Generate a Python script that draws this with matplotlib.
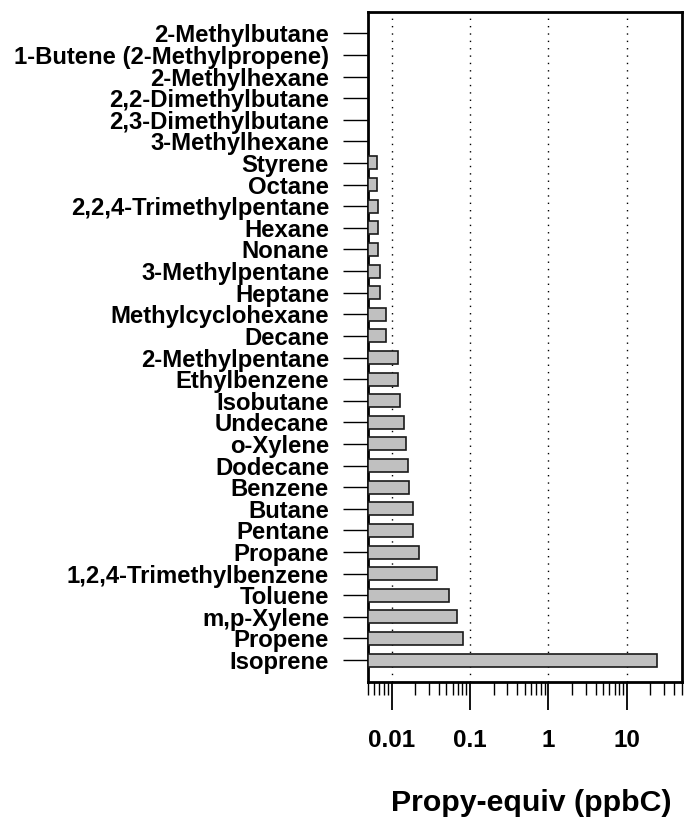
import numpy as np
import matplotlib
matplotlib.use("Agg")
import matplotlib.pyplot as plt
from matplotlib.ticker import LogLocator, FixedLocator, NullFormatter

# --- DATA (top to bottom as shown) ---
compounds = [
    "2-Methylbutane", "1-Butene (2-Methylpropene)", "2-Methylhexane",
    "2,2-Dimethylbutane", "2,3-Dimethylbutane", "3-Methylhexane",
    "Styrene", "Octane", "2,2,4-Trimethylpentane", "Hexane", "Nonane",
    "3-Methylpentane", "Heptane", "Methylcyclohexane", "Decane",
    "2-Methylpentane", "Ethylbenzene", "Isobutane", "Undecane", "o-Xylene",
    "Dodecane", "Benzene", "Butane", "Pentane", "Propane",
    "1,2,4-Trimethylbenzene", "Toluene", "m,p-Xylene", "Propene", "Isoprene",
]
propy_equiv = [
    0, 0, 0, 0, 0, 0,
    0.0065, 0.0066, 0.0067, 0.0067, 0.0067,
    0.0071, 0.0071, 0.0085, 0.0085,
    0.0119, 0.0119, 0.0128, 0.0142, 0.0154,
    0.0161, 0.0168, 0.0185, 0.0189, 0.0223,
    0.0383, 0.0535, 0.0676, 0.0822, 24.1,
]
xticks = [0.01, 0.1, 1, 10]
xtick_labels = ["0.01", "0.1", "1", "10"]

# --- STYLE ---
plt.rcParams['font.family'] = ['Liberation Sans', 'DejaVu Sans']
plt.rcParams['font.weight'] = 'bold'

fig = plt.figure(figsize=(6.84, 8.17), dpi=100)
ax = fig.add_axes([0.538, 0.1656, 0.4586, 0.8201])

n = len(compounds)
ypos = np.arange(n, 0, -1)
vals = np.array(propy_equiv, dtype=float)
left = 0.005
mask = vals > 0
ax.barh(ypos[mask], vals[mask] - left, left=left, height=0.6,
        color='#c0c0c0', edgecolor='#1a1a1a', linewidth=1.2, zorder=3)

ax.set_xscale('log')
ax.set_xlim(0.005, 50)
ax.set_ylim(0.0, n + 1)

# grid
for xv in xticks:
    ax.axvline(xv, color='black', linestyle=(0, (1, 4.3)), linewidth=1.0, zorder=1)

# x ticks
ax.xaxis.set_major_locator(FixedLocator(xticks))
ax.set_xticklabels(xtick_labels, fontsize=17.5, fontweight='bold')
ax.xaxis.set_minor_locator(LogLocator(base=10, subs=np.arange(2, 10)))
ax.xaxis.set_minor_formatter(NullFormatter())
ax.tick_params(axis='x', which='major', direction='out', length=20, width=1.3, pad=14)
ax.tick_params(axis='x', which='minor', direction='out', length=9.5, width=1.0)

# y ticks
ax.set_yticks(ypos)
ax.set_yticklabels(compounds, fontsize=17.2, fontweight='bold')
ax.tick_params(axis='y', which='both', direction='out', length=18, width=1.0, pad=10)
ax.yaxis.set_minor_locator(FixedLocator([]))

for sp in ax.spines.values():
    sp.set_linewidth(2.0)

fig.text(0.777, 1 - 803 / 817, "Propy-equiv (ppbC)", fontsize=21.8,
         fontweight='bold', ha='center', va='center')

fig.savefig("out.png", dpi=100)
